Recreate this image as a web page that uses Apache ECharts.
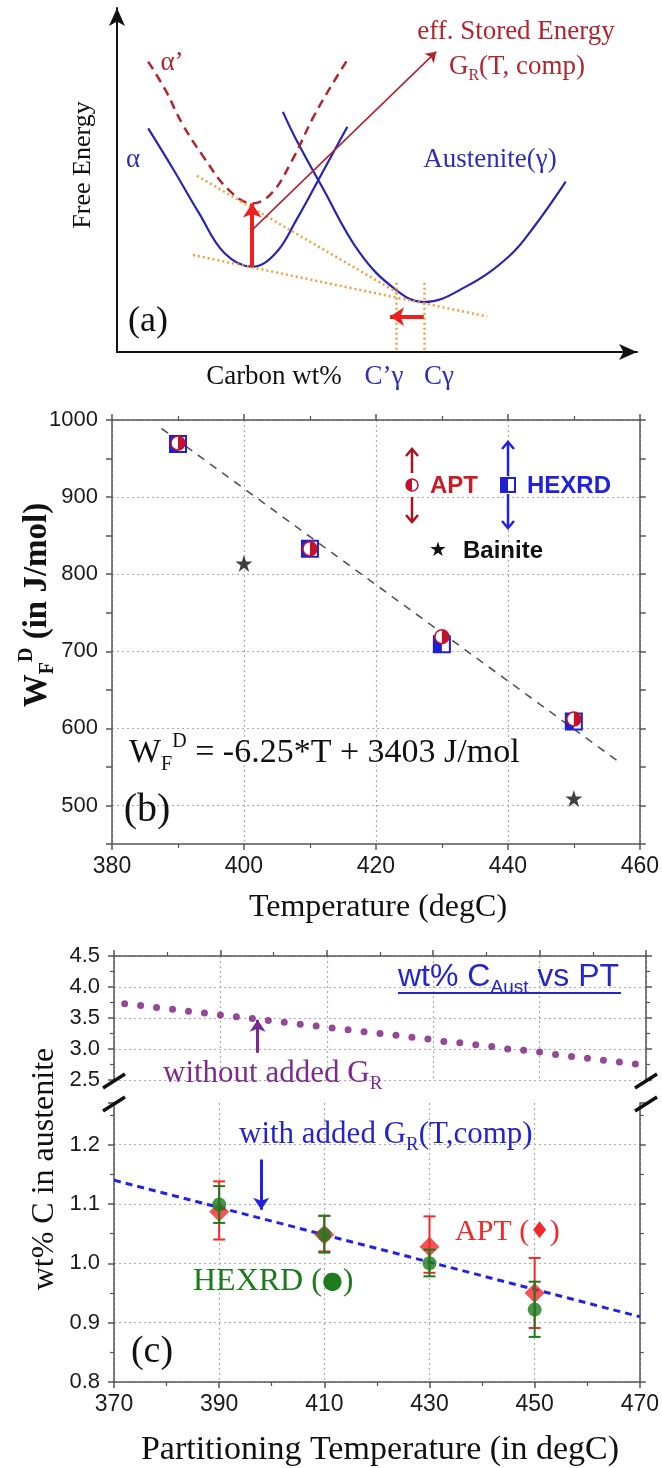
<!DOCTYPE html>
<html><head><meta charset="utf-8">
<script src="https://cdn.jsdelivr.net/npm/echarts@6/dist/echarts.min.js"></script>
<style>html,body{margin:0;padding:0;background:#fff}#c{width:662px;height:1468px}</style>
</head><body><div id="c"></div>
<script>
// ---------- Panel (a): schematic free energy vs carbon (arbitrary units 0..100) ----------
var alphaCurve = [[6.0,65.0],[10.9,52.9],[15.8,40.3],[20.7,28.7],[26.0,24.8],[30.5,28.7],[34.5,38.4],[39.4,51.9],[44.3,65.5]];
var alphaPrimeCurve = [[6.0,84.4],[9.3,76.2],[12.5,66.5],[16.6,56.8],[21.5,47.1],[26.0,43.2],[29.7,46.1],[33.7,55.8],[37.8,68.4],[41.9,79.1],[44.3,84.9]];
var austeniteCurve = [[31.9,69.8],[34.5,61.6],[39.4,48.1],[46.7,28.8],[53.7,18.0],[59.0,14.5],[67.1,19.0],[75.3,27.7],[80.2,36.4],[86.3,49.5]];
var tangentLines = [[[15.4,51.2],[54.1,17.1]],[[14.6,28.2],[71.2,10.3]],[[53.7,20.1],[53.7,0]],[[59.0,20.1],[59.0,0]]];
var storedEnergyArrow = [[26.0,24.8],[26.0,43.2]];
var shiftArrow = [[59.0,10.3],[52.5,10.3]];
var labelArrow = [[26.0,35.5],[61.4,87.3]];

// ---------- Panel (b): W_F^D vs temperature ----------
var tempB = [390,410,430,450];
var aptWF = [970,833,719,612];
var hexrdWF = [969,833,709,609];
var bainiteT = [400,450];
var bainiteWF = [814,509];
var fitLineB = [[387.5,989],[456.6,558]];
var yTickLabelsB = [500,600,700,800,900,1000];

// ---------- Panel (c): wt% C in austenite vs partitioning temperature ----------
var tempC = [390,410,430,450];
var aptC = [1.087,1.048,1.028,0.950];
var aptLo = [1.040,1.020,0.984,0.891];
var aptHi = [1.138,1.080,1.079,1.009];
var hexC = [1.099,1.048,1.000,0.922];
var hexLo = [1.068,1.018,0.978,0.876];
var hexHi = [1.130,1.080,1.023,0.969];
var noGrT = [372,375,378,381,384,387,390,393,396,399,402,405,408,411,414,417,420,423,426,429,432,435,438,441,444,447,450,453,456,459,462,465,468];
var noGrC = [3.73,3.70,3.67,3.64,3.61,3.58,3.55,3.52,3.49,3.46,3.43,3.40,3.37,3.34,3.31,3.28,3.25,3.22,3.19,3.16,3.12,3.10,3.07,3.04,3.00,2.98,2.95,2.91,2.88,2.85,2.82,2.79,2.76];
var withGrLine = [[370,1.14],[470,0.91]];
var purpleArrow = [[397,2.94],[397,3.47]];
var blueArrow = [[398,1.175],[398,1.09]];

var SERIF = "'Liberation Serif','Times New Roman',serif";
var SANS = "'Liberation Sans',Arial,sans-serif";
var AX = '#555';

function frameAxis(extra){
  var a = {type:'value', axisLine:{show:true,onZero:false,lineStyle:{color:AX,width:1.5}},
    axisTick:{show:true,inside:false,length:6,lineStyle:{color:AX,width:1.5}},
    minorTick:{show:false}, axisLabel:{show:false}, splitLine:{show:false}};
  for (var k in extra) a[k] = extra[k];
  return a;
}
var tickLabel = {show:true,fontFamily:SANS,fontSize:23,color:'#1a1a1a',margin:11};
var gridDots = function(colors){ return {show:true,lineStyle:{color:colors,type:[2,3],width:1.2}}; };
var minor2 = {show:true,splitNumber:2,length:4,lineStyle:{color:AX,width:1.2}};

function squareMarker(params, api){
  var p = api.coord([api.value(0), api.value(1)]);
  return {type:'group', children:[
    {type:'rect', shape:{x:p[0]-8,y:p[1]-8,width:16,height:16}, style:{fill:'#fff',stroke:'#1f1fd6',lineWidth:2}},
    {type:'rect', shape:{x:p[0]-8,y:p[1]-8,width:8,height:16}, style:{fill:'#1f1fd6'}}
  ]};
}
function circleMarker(params, api){
  var p = api.coord([api.value(0), api.value(1)]);
  return {type:'group', children:[
    {type:'circle', shape:{cx:p[0],cy:p[1],r:7}, style:{fill:'#fff',stroke:'#c4122a',lineWidth:1.5}},
    {type:'sector', shape:{cx:p[0],cy:p[1],r0:0,r:7,startAngle:-Math.PI/2,endAngle:Math.PI/2,clockwise:true}, style:{fill:'#c4122a'}}
  ]};
}
function errRender(color){
  return function(params, api){
    var x = api.value(0), a = api.coord([x, api.value(2)]), b = api.coord([x, api.value(1)]), w = 6;
    function ln(x1,y1,x2,y2){ return {type:'line', shape:{x1:x1,y1:y1,x2:x2,y2:y2}, style:{stroke:color,lineWidth:2}}; }
    return {type:'group', children:[ln(a[0],a[1],b[0],b[1]), ln(a[0]-w,a[1],a[0]+w,a[1]), ln(b[0]-w,b[1],b[0]+w,b[1])]};
  };
}

function rich(size, color, weight, fam){
  return {
    s:{fontSize:Math.round(size*0.6),fill:color,fontWeight:weight,fontFamily:fam,verticalAlign:'bottom',lineHeight:Math.round(size*0.6)},
    p:{fontSize:Math.round(size*0.6),fill:color,fontWeight:weight,fontFamily:fam,verticalAlign:'top',lineHeight:Math.round(size*0.6)},
    d:{fontSize:Math.round(size*0.75),fill:color,fontFamily:"'DejaVu Sans',sans-serif",lineHeight:Math.round(size*1.25)}
  };
}
function T(x, y, text, size, color, o){
  o = o || {};
  var fam = o.fam || SERIF, weight = o.weight || 'normal';
  return {type:'text', x:x, y:y, rotation:o.rot || 0, z:20,
    style:{text:text, fontFamily:fam, fontSize:size, fontWeight:weight, fill:color,
      align:o.align || 'center', verticalAlign:'middle', lineHeight:Math.round(size*1.25),
      rich:rich(size, color, weight, fam)}};
}
function L(x1,y1,x2,y2,color,w){ return {type:'line', z:20, shape:{x1:x1,y1:y1,x2:x2,y2:y2}, style:{stroke:color,lineWidth:w}}; }
function PL(pts,color,w){ return {type:'polyline', z:20, shape:{points:pts}, style:{stroke:color,lineWidth:w,fill:null}}; }

var BLUE_A = '#2e2eb2', DRED = '#b0252e';
var graphics = [
  // panel (a)
  T(83,165,'Free Energy',26,'#111',{rot:Math.PI/2}),
  T(274,377,'Carbon wt%',27,'#111'),
  T(384,377,'C\u2019\u03b3',27,BLUE_A),
  T(439,377,'C\u03b3',27,BLUE_A),
  T(133,160,'\u03b1',27,BLUE_A),
  T(172,63,'\u03b1\u2019',27,DRED),
  T(490,160,'Austenite(\u03b3)',27,BLUE_A),
  T(516,32,'eff. Stored Energy',27,DRED),
  T(517,67,'G{s|R}(T, comp)',27,DRED),
  T(148,322,'(a)',36,'#111'),
  // panel (b)
  T(37,605,'W{s|F}{p|D} (in J/mol)',33,'#111',{rot:Math.PI/2,weight:'bold'}),
  T(378,908,'Temperature (degC)',32,'#111'),
  T(129,753,'W{s|F}{p|D} = -6.25*T + 3403 J/mol',34,'#111',{align:'left'}),
  T(147,810,'(b)',40,'#111'),
  {type:'circle', z:20, shape:{cx:412,cy:485,r:6}, style:{fill:'#fff',stroke:'#c4122a',lineWidth:1.5}},
  {type:'sector', z:20, shape:{cx:412,cy:485,r0:0,r:6,startAngle:Math.PI/2,endAngle:Math.PI*1.5,clockwise:true}, style:{fill:'#c4122a'}},
  L(412,473,412,449,'#a8141e',2.5), PL([[406,456],[412,449],[418,456]],'#a8141e',2.5),
  L(412,497,412,522,'#a8141e',2.5), PL([[406,515],[412,522],[418,515]],'#a8141e',2.5),
  T(430,486,'APT',24,'#c81e28',{fam:SANS,weight:'bold',align:'left'}),
  {type:'rect', z:20, shape:{x:501,y:478,width:14,height:14}, style:{fill:'#fff',stroke:'#1f1fd6',lineWidth:2}},
  {type:'rect', z:20, shape:{x:501,y:478,width:7,height:14}, style:{fill:'#1f1fd6'}},
  L(508,476,508,442,'#2222dd',2.5), PL([[502,449],[508,442],[514,449]],'#2222dd',2.5),
  L(508,494,508,528,'#2222dd',2.5), PL([[502,521],[508,528],[514,521]],'#2222dd',2.5),
  T(527,486,'HEXRD',24,'#2222dd',{fam:SANS,weight:'bold',align:'left'}),
  T(438,551,'\u2605',20,'#111',{fam:"'DejaVu Sans',sans-serif"}),
  T(463,551,'Bainite',24,'#111',{fam:SANS,weight:'bold',align:'left'}),
  // panel (c)
  T(45,1169,'wt% C in austenite',32,'#111',{rot:Math.PI/2}),
  T(380,1450,'Partitioning Temperature (in degC)',34,'#111'),
  T(398,977,'wt% C{s|Aust} vs PT',32,'#2626c8',{fam:SANS,align:'left'}),
  L(398,993,621,993,'#2626c8',2),
  T(163,1074,'without added G{s|R}',31,'#7b2b8d',{align:'left'}),
  T(239,1135,'with added G{s|R}(T,comp)',31,'#2424c8',{align:'left'}),
  T(455,1232,'APT ({d|\u2666})',30,'#f02a2a',{align:'left'}),
  T(193,1282,'HEXRD ({d|\u25cf})',32,'#1d7a1d',{align:'left'}),
  T(152,1352,'(c)',38,'#111'),
  L(103,1088,125,1074,'#111',3.5), L(103,1111,125,1097,'#111',3.5),
  L(635,1088,657,1074,'#111',3.5), L(635,1111,657,1097,'#111',3.5)
];

var option = {
  animation:false,
  grid:[
    {left:117, top:8, width:520, height:344},
    {left:112, top:420, width:530, height:424},
    {left:114, top:956, width:532, height:124},
    {left:114, top:1103, width:532, height:279}
  ],
  xAxis:[
    {type:'value', gridIndex:0, min:0, max:100,
      axisLine:{show:true,onZero:false,symbol:['none','arrow'],symbolSize:[12,18],lineStyle:{color:'#111',width:2}},
      axisTick:{show:false}, axisLabel:{show:false}, splitLine:{show:false}},
    frameAxis({gridIndex:1, min:380, max:460, interval:20, position:'bottom', minorTick:minor2, axisLabel:tickLabel, splitLine:gridDots('#aaa')}),
    frameAxis({gridIndex:1, min:380, max:460, interval:20, position:'top', minorTick:minor2}),
    frameAxis({gridIndex:2, min:370, max:470, interval:20, position:'top', minorTick:minor2, splitLine:gridDots('#aaa')}),
    frameAxis({gridIndex:3, min:370, max:470, interval:20, position:'bottom', minorTick:minor2, axisLabel:tickLabel, splitLine:gridDots('#aaa')})
  ],
  yAxis:[
    {type:'value', gridIndex:0, min:0, max:100,
      axisLine:{show:true,onZero:false,symbol:['none','arrow'],symbolSize:[12,18],lineStyle:{color:'#111',width:2}},
      axisTick:{show:false}, axisLabel:{show:false}, splitLine:{show:false}},
    frameAxis({gridIndex:1, min:450, max:1000, interval:50, position:'left',
      axisLabel:{show:true,fontFamily:SANS,fontSize:22,color:'#1a1a1a',margin:14,
        formatter:function(v){ return yTickLabelsB.indexOf(Math.round(v)) >= 0 ? String(Math.round(v)) : ''; }},
      splitLine:gridDots(['rgba(0,0,0,0)','#aaa'])}),
    frameAxis({gridIndex:1, min:450, max:1000, interval:50, position:'right'}),
    frameAxis({gridIndex:2, min:2.5, max:4.5, interval:0.5, position:'left', minorTick:minor2,
      axisLabel:{show:true,fontFamily:SANS,fontSize:22,color:'#1a1a1a',margin:14,formatter:function(v){return v.toFixed(1);}},
      splitLine:gridDots('#aaa')}),
    frameAxis({gridIndex:2, min:2.5, max:4.5, interval:0.5, position:'right', minorTick:minor2}),
    frameAxis({gridIndex:3, min:0.8, max:1.27, interval:0.1, position:'left', minorTick:minor2,
      axisLabel:{show:true,fontFamily:SANS,fontSize:22,color:'#1a1a1a',margin:14,
        formatter:function(v){ var r = Math.round(v*10)/10; return Math.abs(v-r) < 1e-6 ? r.toFixed(1) : ''; }},
      splitLine:gridDots(['#aaa','#aaa','#aaa','#aaa','#aaa','rgba(0,0,0,0)'])}),
    frameAxis({gridIndex:3, min:0.8, max:1.27, interval:0.1, position:'right', minorTick:minor2})
  ],
  series:[
    // (a)
    {type:'line', xAxisIndex:0, yAxisIndex:0, data:alphaCurve, smooth:0.4, symbol:'none', lineStyle:{color:'#2626b0',width:2.2}, z:3},
    {type:'line', xAxisIndex:0, yAxisIndex:0, data:austeniteCurve, smooth:0.4, symbol:'none', lineStyle:{color:'#2626b0',width:2.2}, z:3},
    {type:'line', xAxisIndex:0, yAxisIndex:0, data:alphaPrimeCurve, smooth:0.4, symbol:'none', lineStyle:{color:DRED,width:2.5,type:[9,6]}, z:3},
    {type:'lines', coordinateSystem:'cartesian2d', xAxisIndex:0, yAxisIndex:0, symbol:'none',
      data:tangentLines.map(function(c){return {coords:c};}), lineStyle:{color:'#f0a03c',width:2.5,type:[2,3],opacity:1}, z:4},
    {type:'lines', coordinateSystem:'cartesian2d', xAxisIndex:0, yAxisIndex:0, symbol:['none','arrow'], symbolSize:14,
      data:[{coords:storedEnergyArrow},{coords:shiftArrow}], lineStyle:{color:'#f01e1e',width:4,opacity:1}, z:5},
    {type:'lines', coordinateSystem:'cartesian2d', xAxisIndex:0, yAxisIndex:0, symbol:['none','arrow'], symbolSize:10,
      data:[{coords:labelArrow}], lineStyle:{color:DRED,width:1.6,opacity:1}, z:5},
    // (b)
    {type:'line', xAxisIndex:1, yAxisIndex:1, data:fitLineB, symbol:'none', lineStyle:{color:'#555',width:1.6,type:[8,7]}, z:2},
    {type:'custom', xAxisIndex:1, yAxisIndex:1, data:tempB.map(function(t,i){return [t,hexrdWF[i]];}), renderItem:squareMarker, z:3},
    {type:'custom', xAxisIndex:1, yAxisIndex:1, data:tempB.map(function(t,i){return [t,aptWF[i]];}), renderItem:circleMarker, z:4},
    {type:'scatter', xAxisIndex:1, yAxisIndex:1, data:bainiteT.map(function(t,i){return [t,bainiteWF[i]];}),
      symbol:'path://M50 0 L61.8 35.1 L98.9 35.1 L68.9 56.8 L80.3 91.9 L50 70.2 L19.7 91.9 L31.1 56.8 L1.1 35.1 L38.2 35.1 Z',
      symbolSize:17, itemStyle:{color:'#111'}, z:4},
    // (c) upper
    {type:'scatter', xAxisIndex:3, yAxisIndex:3, data:noGrT.map(function(t,i){return [t,noGrC[i]];}), symbol:'circle', symbolSize:7, itemStyle:{color:'#7a1a7a'}, z:3},
    {type:'lines', coordinateSystem:'cartesian2d', xAxisIndex:3, yAxisIndex:3, symbol:['none','arrow'], symbolSize:12,
      data:[{coords:purpleArrow}], lineStyle:{color:'#7a2a90',width:3,opacity:1}, z:5},
    // (c) lower
    {type:'line', xAxisIndex:4, yAxisIndex:5, data:withGrLine, symbol:'none', lineStyle:{color:'#2222e0',width:3,type:[7,5]}, z:2},
    {type:'lines', coordinateSystem:'cartesian2d', xAxisIndex:4, yAxisIndex:5, symbol:['none','arrow'], symbolSize:12,
      data:[{coords:blueArrow}], lineStyle:{color:'#2222e0',width:3,opacity:1}, z:5},
    {type:'custom', xAxisIndex:4, yAxisIndex:5, data:tempC.map(function(t,i){return [t,aptLo[i],aptHi[i]];}), renderItem:errRender('#f02a2a'), z:3},
    {type:'scatter', xAxisIndex:4, yAxisIndex:5, data:tempC.map(function(t,i){return [t,aptC[i]];}), symbol:'diamond', symbolSize:20, itemStyle:{color:'#f02a2a'}, z:4},
    {type:'custom', xAxisIndex:4, yAxisIndex:5, data:tempC.map(function(t,i){return [t,hexLo[i],hexHi[i]];}), renderItem:errRender('#1d7a1d'), z:5},
    {type:'scatter', xAxisIndex:4, yAxisIndex:5, data:tempC.map(function(t,i){return [t,hexC[i]];}), symbol:'circle', symbolSize:14, itemStyle:{color:'#1d7a1d'}, z:6}
  ],
  graphic:{elements:graphics}
};
var chart = echarts.init(document.getElementById('c'), null, {renderer:'canvas'});
chart.setOption(option);
</script>
</body></html>
